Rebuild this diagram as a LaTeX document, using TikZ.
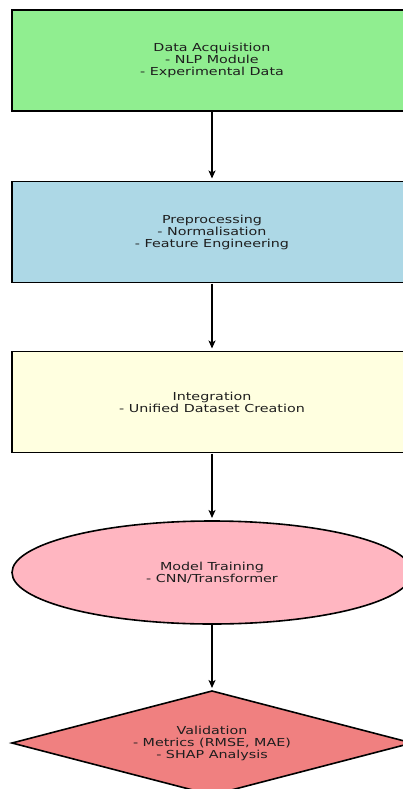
\documentclass[tikz,border=0pt]{standalone}
\usepackage{fontspec}
\setmainfont{DejaVu Sans}[FakeStretch=1.3]
\usetikzlibrary{shapes.geometric,arrows.meta}
\definecolor{lgreen}{HTML}{90EE90}
\definecolor{lblue}{HTML}{ADD8E6}
\definecolor{lyellow}{HTML}{FFFFE0}
\definecolor{lpink}{HTML}{FFB6C1}
\definecolor{lcoral}{HTML}{F08080}
\definecolor{txt}{HTML}{1E1E1E}
\begin{document}
\begin{tikzpicture}[x=1pt,y=1pt,
  base/.style={draw=black,line width=1.6pt,align=center,text=txt,
    font=\fontsize{11}{12}\selectfont,inner sep=0pt,outer sep=0pt},
  boxnode/.style={base,rectangle,minimum width=400pt,minimum height=101pt},
  ellnode/.style={base,ellipse,minimum width=400pt,minimum height=103pt},
  dianode/.style={base,diamond,aspect=3.85,minimum width=400pt,minimum height=104pt},
  flow/.style={line width=1.8pt,-{Stealth[length=8pt,width=7pt,inset=2pt]},shorten >=3pt,shorten <=1pt}]
\useasboundingbox (0,0) rectangle (403,-789);
\clip (0,0) rectangle (403,-789);
\node[boxnode,fill=lgreen] (a) at (212,-60.5) {Data Acquisition\\- NLP Module\\- Experimental Data};
\node[boxnode,fill=lblue] (b) at (212,-232) {Preprocessing\\- Normalisation\\- Feature Engineering};
\node[boxnode,fill=lyellow] (c) at (212,-402) {Integration\\- Unified Dataset Creation};
\node[ellnode,fill=lpink] (d) at (212,-572.5) {Model Training\\- CNN/Transformer};
\node[dianode,fill=lcoral] (e) at (212,-743) {Validation\\- Metrics (RMSE, MAE)\\- SHAP Analysis};
\draw[flow] (a.south) -- (b.north);
\draw[flow] (b.south) -- (c.north);
\draw[flow] (c.south) -- (d.north);
\draw[flow] (d.south) -- (e.north);
\end{tikzpicture}
\end{document}
